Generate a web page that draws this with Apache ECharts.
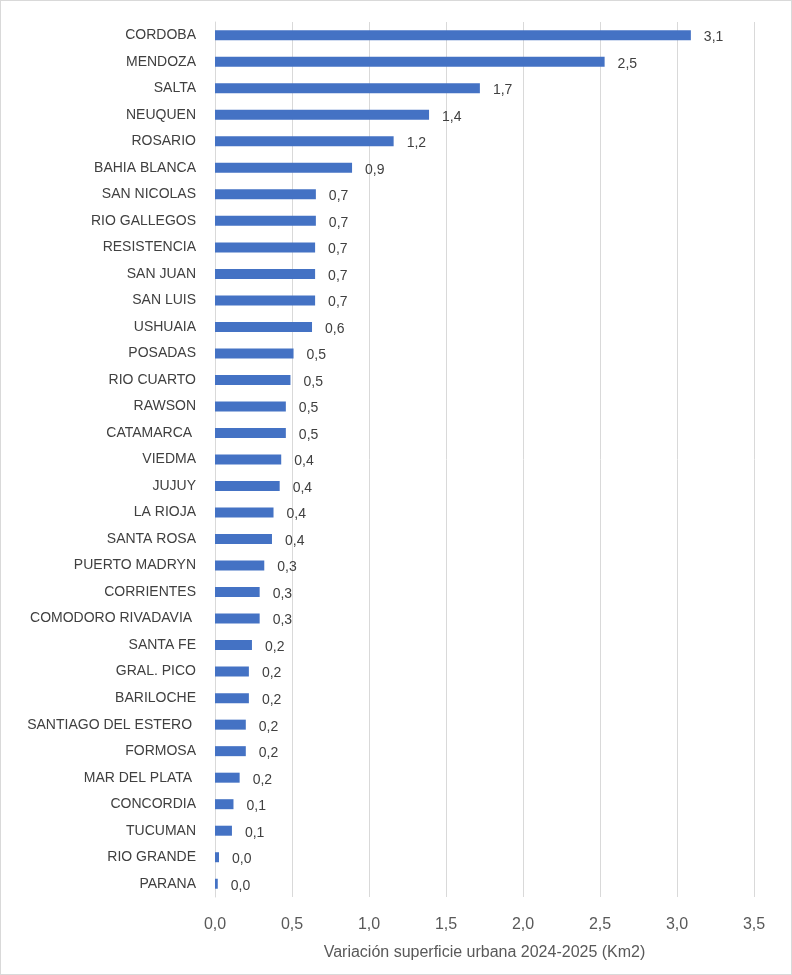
<!DOCTYPE html>
<html>
<head>
<meta charset="utf-8">
<script src="https://cdn.jsdelivr.net/npm/echarts@6/dist/echarts.min.js"></script>
<style>
  html, body { margin: 0; padding: 0; background: #fff; }
  #chart { width: 790px; height: 973px; border: 1px solid #d9d9d9; }
</style>
</head>
<body>
<div id="chart"></div>
<script>
// ciudades, de mayor a menor variacion
var ciudades = ['CORDOBA', 'MENDOZA', 'SALTA', 'NEUQUEN', 'ROSARIO', 'BAHIA BLANCA',
    'SAN NICOLAS', 'RIO GALLEGOS', 'RESISTENCIA', 'SAN JUAN', 'SAN LUIS', 'USHUAIA',
    'POSADAS', 'RIO CUARTO', 'RAWSON', 'CATAMARCA ', 'VIEDMA', 'JUJUY', 'LA RIOJA',
    'SANTA ROSA', 'PUERTO MADRYN', 'CORRIENTES', 'COMODORO RIVADAVIA ', 'SANTA FE',
    'GRAL. PICO', 'BARILOCHE', 'SANTIAGO DEL ESTERO ', 'FORMOSA', 'MAR DEL PLATA ',
    'CONCORDIA', 'TUCUMAN', 'RIO GRANDE', 'PARANA'];

// variacion superficie urbana 2024-2025 (km2)
var variacion = [3.09, 2.53, 1.72, 1.39, 1.16, 0.89,
    0.655, 0.655, 0.65, 0.65, 0.65, 0.63,
    0.51, 0.49, 0.46, 0.46, 0.43, 0.42, 0.38,
    0.37, 0.32, 0.29, 0.29, 0.24,
    0.22, 0.22, 0.2, 0.2, 0.16,
    0.12, 0.11, 0.026, 0.018];

var ejeMin = 0, ejeMax = 3.5, ejePaso = 0.5;
var ejeNombre = 'Variación superficie urbana 2024-2025 (Km2)';

function coma (v) {
    return v.toFixed(1).replace('.', ',');
}

var fuente = '"Liberation Sans Narrow", "Liberation Sans", sans-serif';

var option = {
    animation: false,
    grid: {
        left: 214,
        right: 37,
        top: 21,
        bottom: 77
    },
    xAxis: {
        type: 'value',
        min: ejeMin,
        max: ejeMax,
        interval: ejePaso,
        name: ejeNombre,
        nameLocation: 'middle',
        nameGap: 48,
        nameTextStyle: { color: '#595959', fontSize: 16, fontFamily: fuente },
        axisLine: { show: false },
        axisTick: { show: false },
        axisLabel: {
            color: '#595959',
            fontSize: 16,
            fontFamily: fuente,
            margin: 20,
            formatter: function (v) { return coma(v); }
        },
        splitLine: { lineStyle: { color: '#d9d9d9', width: 1 } }
    },
    yAxis: {
        type: 'category',
        inverse: true,
        data: ciudades,
        axisLine: { show: true, lineStyle: { color: '#d9d9d9' } },
        axisTick: { show: false },
        axisLabel: {
            color: '#404040',
            fontSize: 14,
            fontFamily: fuente,
            margin: 19
        }
    },
    series: [{
        type: 'bar',
        data: variacion,
        barWidth: 10,
        itemStyle: { color: '#4472c4' },
        label: {
            show: true,
            position: 'right',
            distance: 13,
            offset: [0, 2],
            color: '#404040',
            fontSize: 14,
            fontFamily: fuente,
            formatter: function (p) { return coma(p.value); }
        }
    }]
};

var chart = echarts.init(document.getElementById('chart'));
chart.setOption(option);
</script>
</body>
</html>
